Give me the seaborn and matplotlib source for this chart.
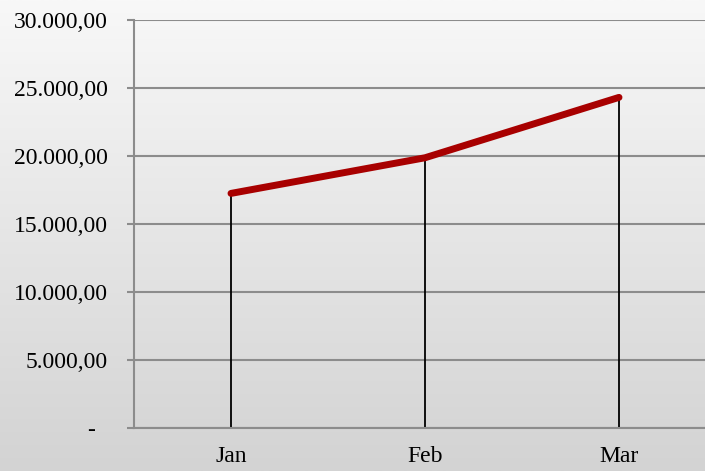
import numpy as np
import pandas as pd
import matplotlib
matplotlib.use("Agg")
import matplotlib.pyplot as plt
import seaborn as sns

# Data
months = ["Jan", "Feb", "Mar"]
totals = [17250, 19870, 24310]
y_ticks = [0, 5000, 10000, 15000, 20000, 25000, 30000]


def fmt_value(v):
    # Excel accounting style: 30.000,00 and "-" for zero
    if v == 0:
        return "-  "
    s = f"{v:,.2f}"
    return s.replace(",", "X").replace(".", ",").replace("X", ".")


sns.set_style("white")
plt.rcParams["font.family"] = ["Liberation Serif", "DejaVu Serif"]

df = pd.DataFrame({"month": months, "total": totals})

fig = plt.figure(figsize=(7.05, 4.71), dpi=100)

# light-to-grey vertical gradient behind everything
bg = fig.add_axes([0, 0, 1, 1], zorder=0)
grad = np.linspace(0, 1, 256).reshape(-1, 1)
bg.imshow(grad, aspect="auto", cmap=matplotlib.colors.LinearSegmentedColormap.from_list(
    "paper", ["#f8f8f8", "#d3d3d3"]), extent=[0, 1, 0, 1], origin="upper")
bg.axis("off")

ax = fig.add_axes([134 / 705, 43 / 471, 582 / 705, 408 / 471], zorder=1)
ax.patch.set_alpha(0)

x = np.arange(len(months))
ax.vlines(x, 0, totals, color="black", linewidth=1.3, zorder=2)
sns.lineplot(data=df, x="month", y="total", sort=False, ax=ax,
             color="#a80000", linewidth=5, zorder=3)
ax.lines[-1].set_solid_capstyle("round")

ax.set_xlim(-0.5, 2.5)
ax.set_ylim(0, 30000)
ax.set_yticks(y_ticks)
ax.set_yticklabels([fmt_value(v) for v in y_ticks])
ax.set_xticks(x)
ax.set_xticklabels(months)
ax.grid(axis="y", color="#8c8c8c", linewidth=1.5)
ax.set_axisbelow(True)
ax.set_xlabel("")
ax.set_ylabel("")

for side in ["top", "right"]:
    ax.spines[side].set_visible(False)
ax.spines["left"].set_color("#8c8c8c")
ax.spines["left"].set_linewidth(1.5)
ax.spines["bottom"].set_color("#8c8c8c")
ax.spines["bottom"].set_linewidth(1.5)

ax.tick_params(axis="y", left=True, length=5, width=1.5, color="#8c8c8c",
               pad=14, labelsize=17, labelcolor="black")
ax.tick_params(axis="x", bottom=False, length=0, pad=13, labelsize=17,
               labelcolor="black")

fig.savefig("out.png", dpi=100)
